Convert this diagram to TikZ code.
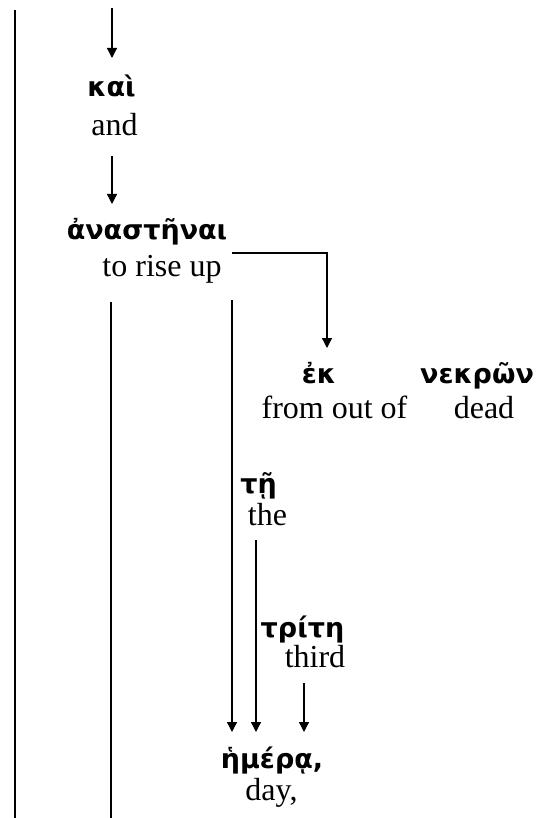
\documentclass[tikz,border=0pt]{standalone}
\usepackage{fontspec}
\setmainfont{Liberation Serif}
\newfontfamily\gk{DejaVu Sans}
\usetikzlibrary{arrows.meta}
\tikzset{
  gr/.style={inner sep=0pt, anchor=base, font=\gk\bfseries\fontsize{27}{30}\selectfont},
  en/.style={inner sep=0pt, anchor=base, font=\fontsize{32}{36}\selectfont},
  ln/.style={line width=1.3pt},
  arr/.style={line width=1.3pt, -{Triangle[width=10pt,length=10pt]}},
}
\begin{document}
\begin{tikzpicture}[x=1pt,y=-1pt]
\useasboundingbox (0,0) rectangle (535,818);
% text nodes
\node[gr] (kai) at (111.5,97) {καὶ};
\node[en] (and) at (114.5,136) {and};
\node[gr] (anast) at (147,240) {ἀναστῆναι};
\node[en] (torise) at (162,276) {to rise up};
\node[gr] (ek) at (319,383) {ἐκ};
\node[en] (fromout) at (334.5,418) {from out of};
\node[gr] (nekron) at (477,383) {νεκρῶν};
\node[en] (dead) at (484,418) {dead};
\node[gr] (te) at (258.5,493) {τῇ};
\node[en] (the) at (267.5,525) {the};
\node[gr] (trite) at (302.5,637) {τρίτη};
\node[en] (third) at (315,667) {third};
\node[gr] (hemera) at (272,768) {ἡμέρᾳ,};
\node[en] (day) at (271.5,800) {day,};
% coordinates
\coordinate (l1t) at (15,10);
\coordinate (l1b) at (15,818);
\coordinate (l2t) at (111,302);
\coordinate (l2b) at (111,818);
\coordinate (a1s) at (112,8);
\coordinate (a1e) at (112,58);
\coordinate (a2s) at (112,156);
\coordinate (a2e) at (112,204);
\coordinate (c1) at (232,253);
\coordinate (c2) at (327,253);
\coordinate (c3) at (327,348);
\coordinate (d1s) at (232,300);
\coordinate (d1e) at (232,732);
\coordinate (d2s) at (256,540);
\coordinate (d2e) at (256,732);
\coordinate (d3s) at (304,683);
\coordinate (d3e) at (304,732);
% lines
\draw[ln] (l1t) -- (l1b);
\draw[ln] (l2t) -- (l2b);
\draw[arr] (a1s) -- (a1e);
\draw[arr] (a2s) -- (a2e);
\draw[arr] (c1) -- (c2) -- (c3);
\draw[arr] (d1s) -- (d1e);
\draw[arr] (d2s) -- (d2e);
\draw[arr] (d3s) -- (d3e);
\end{tikzpicture}
\end{document}
